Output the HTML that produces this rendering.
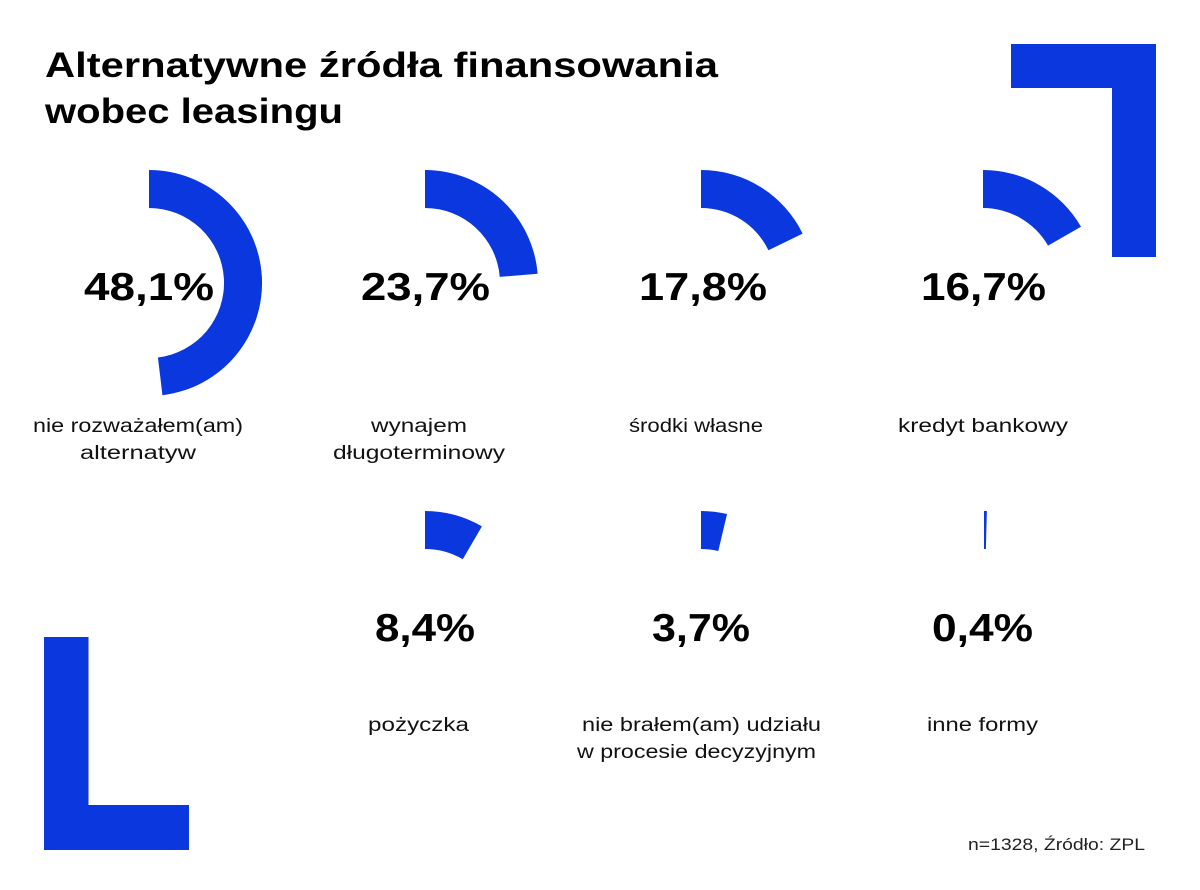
<!DOCTYPE html>
<html>
<head>
<meta charset="utf-8">
<style>
  html, body { margin: 0; padding: 0; background: #ffffff; }
  body { width: 1200px; height: 890px; overflow: hidden; }
  svg { display: block; }
  .t { font-family: "Liberation Sans", sans-serif; font-weight: bold; fill: #000; }
  .p { font-family: "Liberation Sans", sans-serif; font-weight: bold; fill: #000; font-size: 39px; }
  .l { font-family: "Liberation Sans", sans-serif; font-weight: normal; fill: #111; font-size: 19px; }
  .f { font-family: "Liberation Sans", sans-serif; font-weight: normal; fill: #222; font-size: 17px; }
</style>
</head>
<body>
<svg width="1200" height="890" viewBox="0 0 1200 890" xmlns="http://www.w3.org/2000/svg">
  <rect x="0" y="0" width="1200" height="890" fill="#ffffff"/>

  <!-- corner shapes -->
  <polygon points="1011,44 1156,44 1156,257 1112,257 1112,88 1011,88" fill="#0b37de"/>
  <polygon points="44,637 88.5,637 88.5,805 189,805 189,850 44,850" fill="#0b37de"/>

  <!-- title -->
  <text class="t" x="45" y="77" font-size="35" textLength="673" lengthAdjust="spacingAndGlyphs">Alternatywne źródła finansowania</text>
  <text class="t" x="45" y="123" font-size="35" textLength="298" lengthAdjust="spacingAndGlyphs">wobec leasingu</text>

  <!-- arcs row 1 -->
  <path d="M149,170 A113,113 0 0 1 162.46,395.2 L157.93,357.47 A75,75 0 0 0 149,208 Z" fill="#0b37de"/>
  <path d="M425,170 A113,113 0 0 1 537.62,273.78 L499.75,276.88 A75,75 0 0 0 425,208 Z" fill="#0b37de"/>
  <path d="M701,170 A113,113 0 0 1 802.63,233.61 L768.46,250.22 A75,75 0 0 0 701,208 Z" fill="#0b37de"/>
  <path d="M983,170 A113,113 0 0 1 1080.98,226.71 L1048.03,245.64 A75,75 0 0 0 983,208 Z" fill="#0b37de"/>

  <!-- arcs row 2 -->
  <path d="M425,511 A113,113 0 0 1 481.91,526.38 L462.77,559.21 A75,75 0 0 0 425,549 Z" fill="#0b37de"/>
  <path d="M701,511 A113,113 0 0 1 727.03,514.04 L718.28,551.02 A75,75 0 0 0 701,549 Z" fill="#0b37de"/>
  <path d="M984,511 A113,113 0 0 1 986.84,511.04 L985.88,549.02 A75,75 0 0 0 984,549 Z" fill="#0b37de"/>

  <!-- percentages -->
  <text class="p" x="84" y="300" textLength="130" lengthAdjust="spacingAndGlyphs">48,1%</text>
  <text class="p" x="361" y="300" textLength="129" lengthAdjust="spacingAndGlyphs">23,7%</text>
  <text class="p" x="639" y="300" textLength="128" lengthAdjust="spacingAndGlyphs">17,8%</text>
  <text class="p" x="921" y="300" textLength="125" lengthAdjust="spacingAndGlyphs">16,7%</text>
  <text class="p" x="375" y="641" textLength="100" lengthAdjust="spacingAndGlyphs">8,4%</text>
  <text class="p" x="652" y="641" textLength="98" lengthAdjust="spacingAndGlyphs">3,7%</text>
  <text class="p" x="932" y="641" textLength="101" lengthAdjust="spacingAndGlyphs">0,4%</text>

  <!-- labels row 1 -->
  <text class="l" x="33" y="432" textLength="210" lengthAdjust="spacingAndGlyphs">nie rozważałem(am)</text>
  <text class="l" x="80" y="459" textLength="116" lengthAdjust="spacingAndGlyphs">alternatyw</text>
  <text class="l" x="371" y="432" textLength="96" lengthAdjust="spacingAndGlyphs">wynajem</text>
  <text class="l" x="333" y="459" textLength="172" lengthAdjust="spacingAndGlyphs">długoterminowy</text>
  <text class="l" x="629" y="432" textLength="134" lengthAdjust="spacingAndGlyphs">środki własne</text>
  <text class="l" x="898" y="432" textLength="170" lengthAdjust="spacingAndGlyphs">kredyt bankowy</text>

  <!-- labels row 2 -->
  <text class="l" x="368" y="731" textLength="101" lengthAdjust="spacingAndGlyphs">pożyczka</text>
  <text class="l" x="582" y="731" textLength="239" lengthAdjust="spacingAndGlyphs">nie brałem(am) udziału</text>
  <text class="l" x="577" y="758" textLength="239" lengthAdjust="spacingAndGlyphs">w procesie decyzyjnym</text>
  <text class="l" x="927" y="731" textLength="111" lengthAdjust="spacingAndGlyphs">inne formy</text>

  <!-- footer -->
  <text class="f" x="968" y="850" textLength="177" lengthAdjust="spacingAndGlyphs">n=1328, Źródło: ZPL</text>
</svg>
</body>
</html>
